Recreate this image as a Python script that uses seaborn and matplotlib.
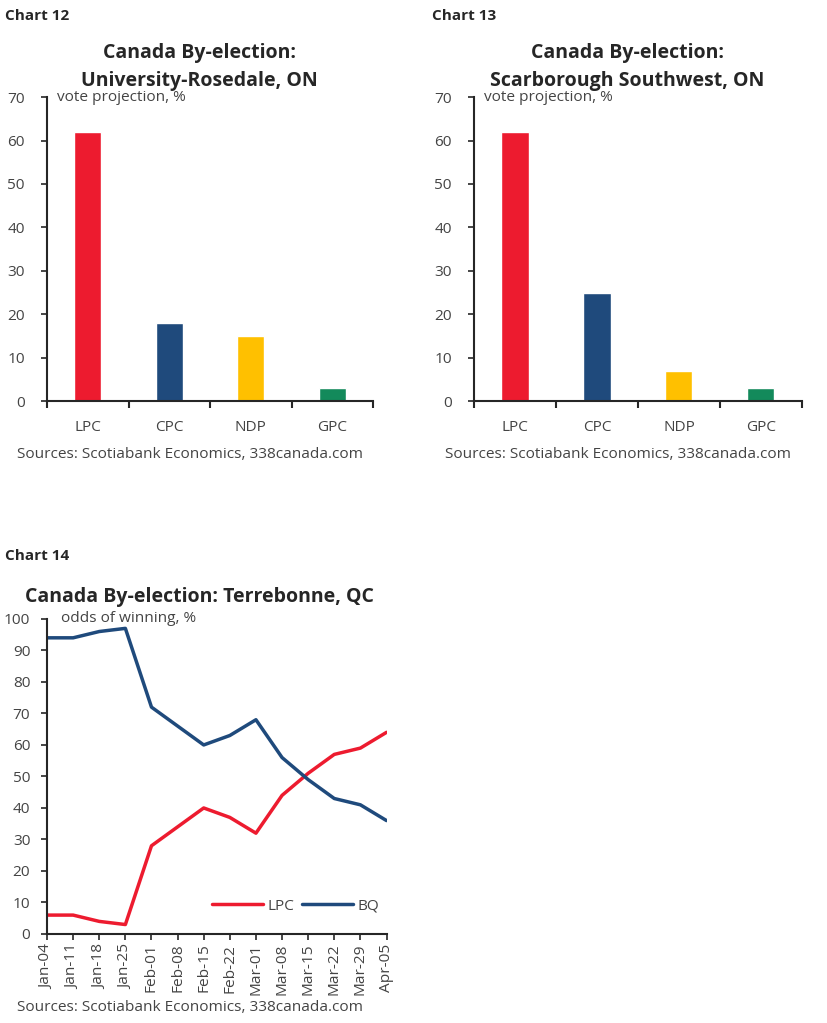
import pandas as pd
import matplotlib.pyplot as plt
import seaborn as sns

parties = ["LPC", "CPC", "NDP", "GPC"]
rosedale = [62, 18, 15, 3]
scarborough = [62, 25, 7, 3]
party_colors = ["#ED1B2F", "#1F4A7C", "#FFC000", "#138A5B"]

dates = ["Jan-04", "Jan-11", "Jan-18", "Jan-25", "Feb-01", "Feb-08", "Feb-15",
         "Feb-22", "Mar-01", "Mar-08", "Mar-15", "Mar-22", "Mar-29", "Apr-05"]
lpc_odds = [6, 6, 4, 3, 28, 34, 40, 37, 32, 44, 51, 57, 59, 64]
bq_odds = [94, 94, 96, 97, 72, 66, 60, 63, 68, 56, 49, 43, 41, 36]

sns.set_style("ticks")
plt.rcParams["font.family"] = ["Open Sans", "DejaVu Sans"]
grey = "#444444"
fs = 11.1

fig = plt.figure(figsize=(8.28, 10.23), dpi=100)


def bar_chart(rect, values, title, src_x):
    ax = fig.add_axes(rect)
    df = pd.DataFrame({"party": parties, "vote": values})
    sns.barplot(data=df, x="party", y="vote", hue="party", palette=party_colors,
                width=0.33, saturation=1, legend=False, ax=ax)
    ax.set_ylim(0, 70)
    ax.set_xlim(-0.5, 3.5)
    ax.set_yticks(range(0, 71, 10))
    ax.set_xticks([-0.5, 0.5, 1.5, 2.5, 3.5], minor=True)
    ax.tick_params(axis="x", which="major", length=0, pad=14, labelsize=fs, labelcolor=grey)
    ax.tick_params(axis="x", which="minor", length=5, width=1.5, direction="out")
    ax.tick_params(axis="y", length=4, width=1.2, labelsize=fs, labelcolor=grey, pad=12)
    ax.set_xlabel("")
    ax.set_ylabel("")
    sns.despine(ax=ax)
    for s in ["left", "bottom"]:
        ax.spines[s].set_linewidth(1.5)
    ax.text(0.03, 1.0, "vote projection, %", transform=ax.transAxes, va="center",
            ha="left", fontsize=fs, color=grey)
    ax.set_title(title, fontsize=14, fontweight="bold", pad=8, linespacing=1.55,
                 x=0.467)
    fig.text(src_x, 0.552, "Sources: Scotiabank Economics, 338canada.com",
             fontsize=fs, color=grey)
    return ax


bar_chart([0.0568, 0.608, 0.394, 0.297], rosedale,
          "Canada By-election:\nUniversity-Rosedale, ON", 0.021)
bar_chart([0.5725, 0.608, 0.396, 0.297], scarborough,
          "Canada By-election:\nScarborough Southwest, ON", 0.538)

fig.text(0.006, 0.980, "Chart 12", fontsize=11, fontweight="bold")
fig.text(0.522, 0.980, "Chart 13", fontsize=11, fontweight="bold")
fig.text(0.006, 0.453, "Chart 14", fontsize=11, fontweight="bold")

# line chart
ax = fig.add_axes([0.0568, 0.087, 0.410, 0.308])
long = pd.DataFrame({
    "x": list(range(len(dates))) * 2,
    "odds": lpc_odds + bq_odds,
    "party": ["LPC"] * len(dates) + ["BQ"] * len(dates),
})
sns.lineplot(data=long, x="x", y="odds", hue="party",
             palette={"LPC": "#ED1B2F", "BQ": "#1F4A7C"}, linewidth=2.5, ax=ax)
ax.set_xlim(0, len(dates) - 1)
ax.set_ylim(0, 100)
ax.set_yticks(range(0, 101, 10))
ax.set_xticks(range(len(dates)))
ax.set_xticklabels(dates, rotation=90)
ax.tick_params(axis="x", length=4, width=1.2, labelsize=fs, labelcolor=grey, pad=3)
ax.tick_params(axis="y", length=4, width=1.2, labelsize=fs, labelcolor=grey, pad=8)
ax.set_xlabel("")
ax.set_ylabel("")
sns.despine(ax=ax)
for s in ["left", "bottom"]:
    ax.spines[s].set_linewidth(1.5)
ax.text(0.04, 1.0, "odds of winning, %", transform=ax.transAxes, va="center",
        ha="left", fontsize=fs, color=grey)
ax.set_title("Canada By-election: Terrebonne, QC", fontsize=14,
             fontweight="bold", pad=12, x=0.45)
leg = ax.legend(loc="lower right", ncol=2, frameon=False, fontsize=fs,
                handlelength=3.3, columnspacing=0.5, handletextpad=0.3,
                bbox_to_anchor=(1.02, 0.02))
for t in leg.get_texts():
    t.set_color(grey)
fig.text(0.021, 0.012, "Sources: Scotiabank Economics, 338canada.com",
         fontsize=fs, color=grey)

fig.savefig("out.png", dpi=100)
